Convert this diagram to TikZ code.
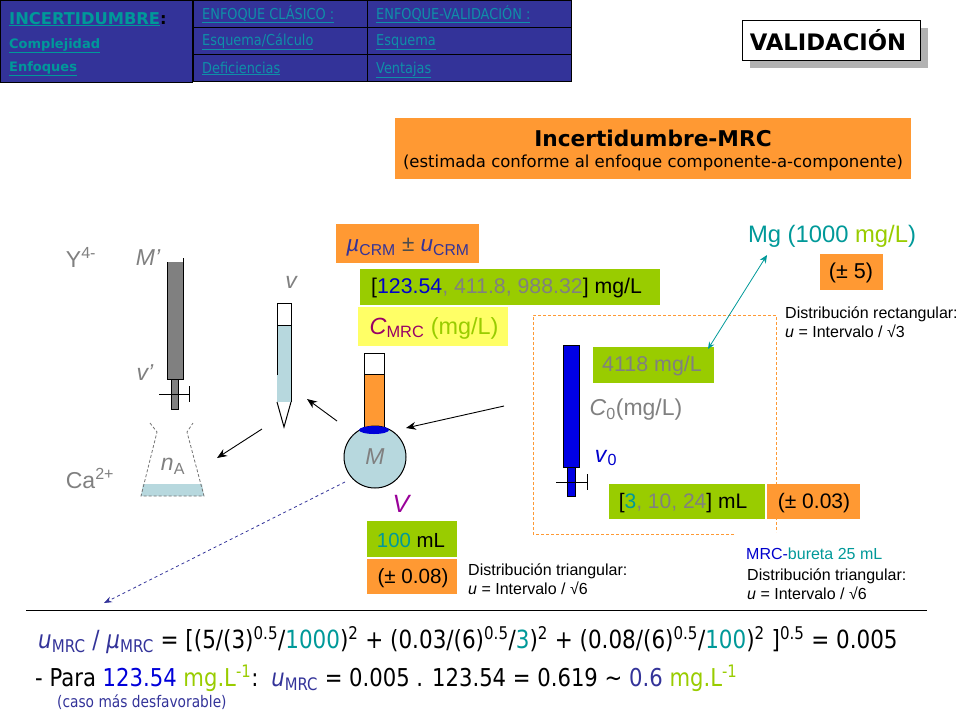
\documentclass[tikz,border=0pt]{standalone}
\usepackage{fontspec}
\usepackage{xcolor}
\usetikzlibrary{arrows.meta}
\setmainfont{Liberation Sans}
\newfontfamily\menufont{DejaVu Sans}
\newfontfamily\menucond[FakeStretch=0.86]{DejaVu Sans}
\newfontfamily\formfont[FakeStretch=0.86]{DejaVu Sans}
\newcommand{\Fsz}[1]{\fontsize{#1}{#1}\selectfont}
\newcommand{\Sb}[1]{\textsubscript{#1}}
\newcommand{\Sp}[1]{\textsuperscript{#1}}
\definecolor{MenuBlue}{HTML}{333399}
\definecolor{MenuText}{HTML}{0F8FA8}
\definecolor{BoxOrange}{HTML}{FF9933}
\definecolor{BoxGreen}{HTML}{99CC00}
\definecolor{BoxYellow}{HTML}{FFFF66}
\definecolor{LiquidBlue}{HTML}{B7D8DE}
\definecolor{TxtGrey}{HTML}{808080}
\definecolor{TxtTeal}{HTML}{009999}
\definecolor{TxtLime}{HTML}{99CC00}
\definecolor{TxtNavy}{HTML}{333399}
\definecolor{TxtPurple}{HTML}{990099}
\definecolor{TxtWine}{HTML}{990066}
\tikzset{
	menucell/.style={draw=black, fill=MenuBlue, line width=0.8pt, minimum width=#1, minimum height=27pt, anchor=north west, inner sep=0pt},
	menutxt/.style={anchor=base west, inner sep=0pt},
	filledbox/.style={fill=#1, inner sep=0pt, anchor=north west},
	lbl/.style={inner sep=0pt, text=TxtGrey},
	note/.style={inner sep=0pt, anchor=north west, align=left, font=\Fsz{16}},
	arrowblack/.style={-{Stealth[length=10pt,width=8pt]}, line width=0.9pt},
	glass/.style={draw=black, line width=1pt}
}
\begin{document}
\begin{tikzpicture}[x=1pt, y=-1pt]
	\useasboundingbox (0,0) rectangle (960,720);
	
	% menu
	\node[menucell=192pt, minimum height=82pt] (menuMain) at (0,0) {};
	\node[menutxt, font=\menufont\bfseries\Fsz{16.3}, text=TxtTeal] (menuA) at (9,24) {\underline{INCERTIDUMBRE}\textcolor{black}{:}};
	\node[menutxt, font=\menufont\bfseries\Fsz{13}, text=TxtTeal] (menuB) at (9,48) {\underline{Complejidad}};
	\node[menutxt, font=\menufont\bfseries\Fsz{13}, text=TxtTeal] (menuC) at (9,71) {\underline{Enfoques}};
	\foreach \cellName/\cellTxt/\cellY [count=\i] in {a/ENFOQUE CLÁSICO :/19,b/{Esquema/Cálculo}/45,c/Deficiencias/73}{
		\node[menucell=174pt] (cell\cellName) at (193,{(\i-1)*27}) {};
		\node[menutxt, font=\menucond\Fsz{15}, text=MenuText] at (202,\cellY) {\underline{\cellTxt}};
	}
	\foreach \cellName/\cellTxt/\cellY [count=\i] in {d/ENFOQUE-VALIDACIÓN :/19,e/Esquema/45,f/Ventajas/73}{
		\node[menucell=204pt] (cell\cellName) at (367,{(\i-1)*27}) {};
		\node[menutxt, font=\menucond\Fsz{15}, text=MenuText] at (376,\cellY) {\underline{\cellTxt}};
	}
	
	% titles
	\fill[black!30] (750,28) rectangle (928,68);
	\node[draw=black, fill=white, line width=1pt, anchor=north west, minimum width=178pt, minimum height=40pt, inner sep=0pt, font=\menufont\bfseries\Fsz{22.7}] (valBox) at (742,20) {\hspace{-7pt}VALIDACIÓN};
	\node[filledbox=BoxOrange, minimum width=516pt, minimum height=61pt] (titleBox) at (395,118) {};
	\node[inner sep=0pt, font=\menufont\bfseries\Fsz{21.7}] (titleA) at (653,138) {Incertidumbre-MRC};
	\node[inner sep=0pt, font=\menufont\Fsz{16.5}] (titleB) at (653,163) {(estimada conforme al enfoque componente-a-componente)};
	
	% left labels
	\node[lbl, font=\Fsz{23}] (lblY) at (81,257) {Y\Sp{4-}};
	\node[lbl, font=\itshape\Fsz{23}] (lblMp) at (148,258) {M’};
	\node[lbl, font=\itshape\Fsz{23}] (lblv) at (291,282) {v};
	\node[lbl, font=\itshape\Fsz{23}] (lblvp) at (145,373) {v’};
	\node[lbl, font=\Fsz{23}] (lblCa) at (90,478) {Ca\Sp{2+}};
	\node[lbl, font=\Fsz{23}] (lblnA) at (173,466) {\textit{n}\Sb{A}};
	
	% grey burette
	\fill[black!50] (167,262) rectangle (183,379);
	\draw[glass] (167,262) -- (167,379) -- (183,379) -- (183,258);
	\draw[glass, fill=black!50] (171,379) rectangle (178,409);
	\draw[line width=0.9pt] (159,394) -- (189,394) (189,386) -- (189,402);
	
	% conical flask
	\fill[LiquidBlue] (143,484) -- (202,484) -- (204,496) -- (141,496) -- cycle;
	\draw[black!55, densely dashed, line width=0.8pt] (150,423) -- (157,432) -- (141,496) -- (204,496) -- (187,432) -- (193,423);
	
	% pipette
	\fill[LiquidBlue] (277,325) rectangle (291,402);
	\draw[glass] (277,375) -- (277,303) -- (291,303) -- (291,402) (277,325) -- (291,325);
	\draw[glass] (277,402) -- (284,427) -- (291,402);
	
	% boxes over the volumetric flask
	\node[filledbox=BoxOrange, minimum width=143pt, minimum height=39pt] (muBox) at (336,224) {};
	\node[inner sep=0pt, font=\Fsz{22.5}, text=TxtNavy] (muTxt) at (408,247) {\textit{µ}\Sb{CRM} \textcolor{black!70}{±} \textit{u}\Sb{CRM}};
	\node[filledbox=BoxGreen, minimum width=300pt, minimum height=36pt] (rangeBox) at (360,269) {};
	\node[anchor=west, inner sep=0pt, font=\Fsz{21.3}] (rangeTxt) at (371,288) {[\textcolor{blue!80!black}{123.54}\textcolor{TxtGrey}{, 411.8, 988.32}] mg/L};
	\node[filledbox=BoxYellow, minimum width=150pt, minimum height=39pt] (cmrcBox) at (358,307) {};
	\node[inner sep=0pt, font=\Fsz{23.4}] (cmrcTxt) at (434,328) {\textcolor{TxtWine}{\textit{C}\Sb{MRC}} \textcolor{TxtLime}{(mg/L)}};
	
	% volumetric flask
	\draw[glass, fill=white] (364,353) rectangle (384,374);
	\draw[glass, fill=BoxOrange] (364,374) rectangle (384,430);
	\node[circle, draw=black, fill=LiquidBlue, line width=1pt, minimum size=62pt, inner sep=0pt] (volFlask) at (375,457) {};
	\fill[blue!85!black] (374,430) ellipse (15pt and 4pt);
	\node[lbl, font=\itshape\Fsz{23}] (lblM) at (375,457) {M};
	\node[inner sep=0pt, font=\itshape\Fsz{25}, text=TxtPurple] (lblV) at (401,504) {V};
	\node[filledbox=BoxGreen, minimum width=90pt, minimum height=36pt] (vBox) at (367,521) {};
	\node[inner sep=0pt, font=\Fsz{20.4}] (vTxt) at (411,540) {\textcolor{TxtTeal}{100} mL};
	\node[filledbox=BoxOrange, minimum width=90pt, minimum height=35pt] (vErr) at (367,559) {};
	\node[inner sep=0pt, font=\Fsz{20.6}] (vErrTxt) at (413,578) {(± 0.08)};
	\node[note] (noteTriA) at (468,564) {Distribución triangular:\\[3pt]\textit{u} = Intervalo / √6};
	
	% dashed frame with blue burette
	\draw[BoxOrange, densely dashed, line width=0.8pt] (734,534) -- (533,534) -- (533,315) -- (776,315) -- (776,532);
	\draw[black, fill=blue!90!black, line width=0.8pt] (563,345) rectangle (579,467);
	\draw[black, fill=blue!90!black, line width=0.8pt] (567,467) rectangle (575,496);
	\draw[line width=0.9pt] (556,482) -- (587,482) (587,474) -- (587,490);
	\node[filledbox=BoxGreen, minimum width=121pt, minimum height=36pt] (concBox) at (593,347) {};
	\node[lbl, font=\Fsz{21.4}] (concTxt) at (652,366) {4118 mg/L};
	\node[lbl, font=\Fsz{23}] (lblCz) at (636,410) {\textit{C}\Sb{0}(mg/L)};
	\node[inner sep=0pt, font=\Fsz{23}, text=blue!80!black] (lblvz) at (606,458) {\textit{v}\Sb{0}};
	\node[filledbox=BoxGreen, minimum width=156pt, minimum height=35pt] (volBox) at (609,484) {};
	\node[inner sep=0pt, font=\Fsz{21}] (volTxt) at (683,503) {[\textcolor{TxtTeal}{3}\textcolor{TxtGrey}{, 10, 24}] mL};
	\node[filledbox=BoxOrange, minimum width=93pt, minimum height=35pt] (volErr) at (767,484) {};
	\node[inner sep=0pt, font=\Fsz{21}] (volErrTxt) at (814,503) {(± 0.03)};
	
	% magnesium stock
	\node[inner sep=0pt, font=\Fsz{23.8}, text=TxtTeal] (mgTxt) at (832,236) {Mg (1000 \textcolor{TxtLime}{mg/L})};
	\node[filledbox=BoxOrange, minimum width=63pt, minimum height=36pt] (mgErr) at (820,254) {};
	\node[inner sep=0pt, font=\Fsz{21.5}] (mgErrTxt) at (851,273) {(± 5)};
	\node[note] (noteRect) at (785,307) {Distribución rectangular:\\[3pt]\textit{u} = Intervalo / √3};
	\node[anchor=west, inner sep=0pt, font=\Fsz{16}, text=blue!80!black] (buretaTxt) at (746,554) {MRC-\textcolor{TxtTeal}{bureta 25 mL}};
	\node[note] (noteTriB) at (747,569) {Distribución triangular:\\[3pt]\textit{u} = Intervalo / √6};
	
	% connectors
	\coordinate (pipOut) at (262,429);
	\coordinate (flaskIn) at (217,458);
	\coordinate (volOut) at (337,421);
	\coordinate (pipIn) at (307,399);
	\coordinate (burOut) at (504,406);
	\coordinate (volIn) at (406,428);
	\coordinate (concOut) at (708,349);
	\coordinate (mgIn) at (767,255);
	\coordinate (volFree) at (345,482);
	\coordinate (formIn) at (104,603);
	\draw[arrowblack] (pipOut) -- (flaskIn);
	\draw[arrowblack] (volOut) -- (pipIn);
	\draw[arrowblack] (burOut) -- (volIn);
	\draw[{Stealth[length=7pt,width=6pt]}-{Stealth[length=8pt,width=7pt]}, TxtTeal, line width=0.8pt] (concOut) -- (mgIn);
	\draw[-{Stealth[length=8pt,width=6pt]}, TxtNavy, dashed, line width=0.8pt] (volFree) -- (formIn);
	
	% results
	\coordinate (ruleL) at (26,610);
	\coordinate (ruleR) at (927,610);
	\draw[line width=0.9pt] (ruleL) -- (ruleR);
	\node[anchor=west, inner sep=0pt, font=\formfont\Fsz{25}] (formA) at (38,640) {\textcolor{TxtNavy}{\textit{u}\Sb{MRC} / \textit{µ}\Sb{MRC}} = [(5/(3)\Sp{0.5}/\textcolor{TxtTeal}{1000})\Sp{2} + (0.03/(6)\Sp{0.5}/\textcolor{TxtTeal}{3})\Sp{2} + (0.08/(6)\Sp{0.5}/\textcolor{TxtTeal}{100})\Sp{2} ]\Sp{0.5} = 0.005};
	\node[anchor=west, inner sep=0pt, font=\formfont\Fsz{24.6}] (formB) at (35,678) {- Para \textcolor{blue!85!black}{123.54} \textcolor{TxtLime}{mg.L\Sp{-1}}:\, \textcolor{TxtNavy}{\textit{u}\Sb{MRC}} = 0.005 . 123.54 = 0.619 \textasciitilde{} \textcolor{TxtNavy}{0.6} \textcolor{TxtLime}{mg.L\Sp{-1}}};
	\node[anchor=west, inner sep=0pt, font=\formfont\Fsz{16}, text=TxtNavy] (formC) at (57,702) {(caso más desfavorable)};
\end{tikzpicture}
\end{document}
